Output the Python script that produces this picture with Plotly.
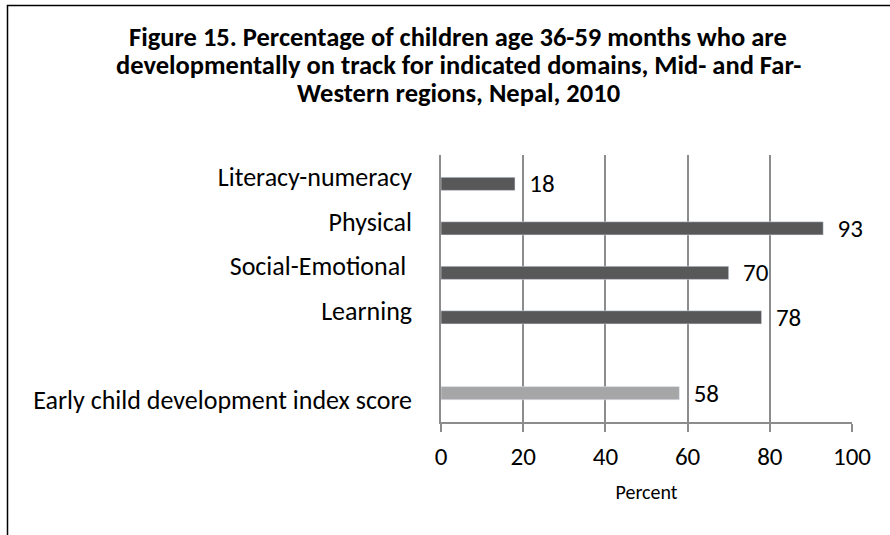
import plotly.graph_objects as go

# categories top to bottom, blank slot before the index score
categories = ["Literacy-numeracy", "Physical", "Social-Emotional ", "Learning", " ",
              "Early child development index score"]
domain_values = [18, 93, 70, 78, None, None]
index_values = [None, None, None, None, None, 58]
x_ticks = [0, 20, 40, 60, 80, 100]
title_lines = ["Figure 15. Percentage of children age 36-59 months who are",
               "developmentally on track for indicated domains, Mid- and Far-",
               "Western regions, Nepal, 2010"]

font = "Calibri, Carlito, Lato, 'Open Sans', sans-serif"

# plot area in pixels: x 441..852, y 155..422
PL, PR, PT, PB = 441, 852, 155, 422


def labels(vals):
    return ["  %d" % v if v is not None else "" for v in vals]


def py(pix):
    return (PB - pix) / (PB - PT)


def px_(pix):
    return (pix - PL) / (PR - PL)


fig = go.Figure(data=[
    go.Bar(y=categories, x=index_values, orientation='h', name='Index',
           marker_color='#a6a6a6', text=labels(index_values), textposition='outside',
           cliponaxis=False, constraintext='none'),
    go.Bar(y=categories, x=domain_values, orientation='h', name='Domains',
           marker_color='#585858', text=labels(domain_values), textposition='outside',
           cliponaxis=False, constraintext='none'),
])

fig.update_traces(textfont=dict(family=font, size=25, color='#000000'))

# three separate title lines, tighter than plotly's own <br> spacing
title_y = [37, 65, 93]
annotations = [dict(text="<b>%s</b>" % t, xref='paper', yref='paper',
                    x=px_(458), y=py(yy), xanchor='center', yanchor='middle',
                    showarrow=False, font=dict(family=font, size=26.5, color='#000000'))
               for t, yy in zip(title_lines, title_y)]

fig.update_layout(
    width=890, height=535,
    margin=dict(l=PL, r=890 - PR, t=PT, b=535 - PB),
    paper_bgcolor='white', plot_bgcolor='white',
    barmode='group', bargap=0.41, bargroupgap=0,
    showlegend=False,
    font=dict(family=font, color='#000000'),
    annotations=annotations,
    shapes=[dict(type='rect', xref='paper', yref='paper',
                 x0=px_(7.5), x1=px_(895), y0=py(540), y1=py(5.5),
                 line=dict(color='#000000', width=1.5), layer='below')],
)

fig.update_xaxes(range=[0, 100], tickvals=x_ticks, showgrid=True, gridcolor='#8c8c8c',
                 gridwidth=1.5, showline=True, linecolor='#8c8c8c', linewidth=1.5,
                 ticks='outside', ticklen=8, tickcolor='#8c8c8c', tickwidth=1.5,
                 tickfont=dict(size=25), zeroline=False, ticklabelstandoff=3,
                 title=dict(text="Percent", font=dict(size=20), standoff=14))
fig.update_yaxes(autorange='reversed', showline=True, linecolor='#8c8c8c', linewidth=1.5,
                 ticks='', tickfont=dict(size=26), ticklabelstandoff=22)

fig.write_html("out.html", config={'displayModeBar': False},
               post_script="document.body.style.margin='0';")
